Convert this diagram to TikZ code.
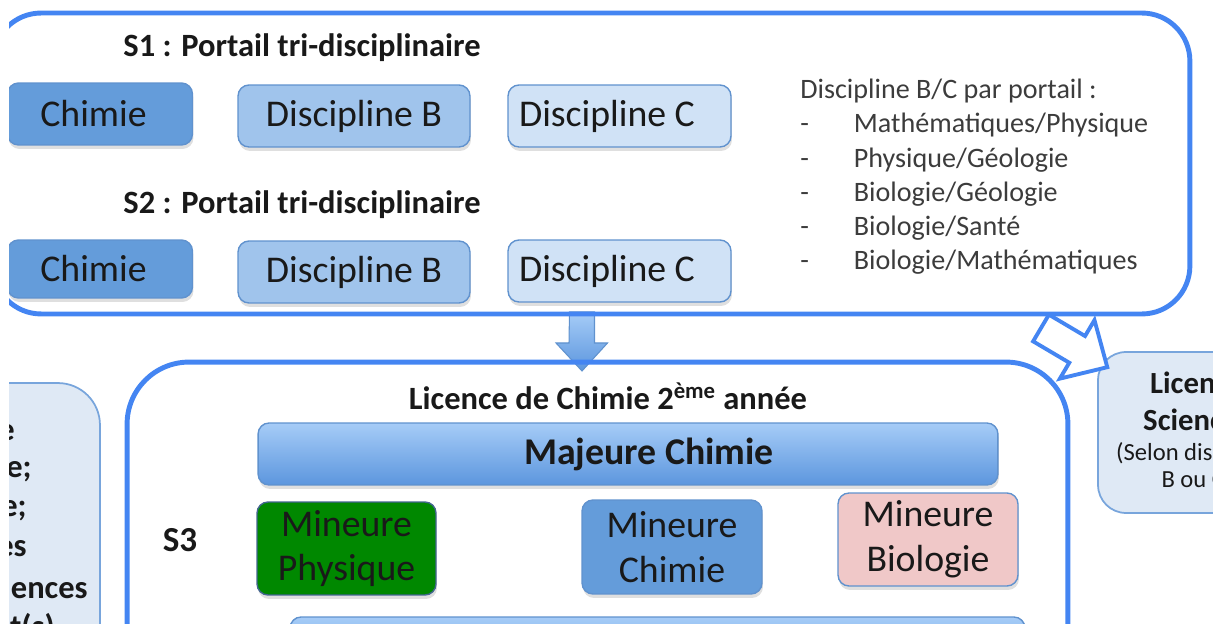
\documentclass[tikz,border=0pt]{standalone}
\usepackage{fontspec}
\setmainfont{Carlito}
\usepackage{tikz}
\usetikzlibrary{shadows}
\pgfdeclarelayer{background}
\pgfsetlayers{background,main}
\definecolor{frameblue}{RGB}{68,133,242}
\definecolor{chimie}{RGB}{100,156,218}
\definecolor{discb}{RGB}{160,196,236}
\definecolor{discc}{RGB}{208,226,246}
\definecolor{boxline}{RGB}{96,146,206}
\definecolor{physique}{RGB}{0,136,0}
\definecolor{biologie}{RGB}{240,200,200}
\definecolor{sidebox}{RGB}{223,233,245}
\definecolor{sideline}{RGB}{120,165,220}
\definecolor{listgray}{RGB}{60,60,60}
\definecolor{majtop}{RGB}{166,204,247}
\definecolor{majbot}{RGB}{92,150,222}

\begin{document}
\begin{tikzpicture}[
		x=0.02cm, y=-0.02cm,
		every node/.style={inner sep=0pt, text=black!90},
		frame/.style={draw=frameblue, line width=2.8pt},
		side/.style={draw=sideline, fill=sidebox, line width=1pt},
		unit/.style={draw=boxline, line width=0.8pt, rounded corners=0.22cm, align=center,
			font=\fontsize{21.5}{25.5}\selectfont,
			drop shadow={shadow xshift=0.02cm, shadow yshift=-0.08cm, opacity=0.25}},
		title/.style={font=\bfseries\fontsize{18.5}{22}\selectfont},
		frag/.style={anchor=base east, font=\bfseries\fontsize{18.5}{22}\selectfont}
	]
		\useasboundingbox (0,0) rectangle (1213,624);
		\clip (9,0) rectangle (1213,624);

		% S1 / S2
		\node[frame, rounded corners=0.96cm, minimum width=23.94cm, minimum height=6.02cm] (portail) at (591.5,163.5) {};
		\node[title] (s1) at (302,48) {S1 : Portail tri-disciplinaire};
		\node[unit, fill=chimie, minimum width=3.7cm, minimum height=1.24cm] (chimA) at (100,114) {Chimie\hspace*{0.26cm}};
		\node[unit, fill=discb, minimum width=4.64cm, minimum height=1.24cm] (discBA) at (354,116) {Discipline B};
		\node[unit, fill=discc, minimum width=4.46cm, minimum height=1.24cm] (discCA) at (619.5,116) {Discipline C\hspace*{0.5cm}};
		\node[title] (s2) at (302,205) {S2 : Portail tri-disciplinaire};
		\node[unit, fill=chimie, minimum width=3.7cm, minimum height=1.16cm] (chimB) at (100,269) {Chimie\hspace*{0.26cm}};
		\node[unit, fill=discb, minimum width=4.64cm, minimum height=1.24cm] (discBB) at (354,272) {Discipline B};
		\node[unit, fill=discc, minimum width=4.46cm, minimum height=1.24cm] (discCB) at (619.5,271) {Discipline C\hspace*{0.5cm}};
		\node[anchor=north west, align=left, text=listgray, font=\fontsize{16}{19.4}\selectfont] (liste) at (800,79) {
			Discipline B/C par portail :\\
			\makebox[30.5pt][l]{-}Mathématiques/Physique\\
			\makebox[30.5pt][l]{-}Physique/Géologie\\
			\makebox[30.5pt][l]{-}Biologie/Géologie\\
			\makebox[30.5pt][l]{-}Biologie/Santé\\
			\makebox[30.5pt][l]{-}Biologie/Mathématiques
		};

		% S3
		\node[frame, rounded corners=1.24cm, minimum width=18.82cm, minimum height=12.76cm] (licence) at (597.5,681) {};
		\node[title] (lictitre) at (608,396) {Licence de Chimie 2\textsuperscript{ème} année};
		\node[unit, top color=majtop, bottom color=majbot, minimum width=14.8cm, minimum height=1.24cm,
			font=\bfseries\fontsize{21.5}{25.5}\selectfont] (majeure) at (628,454) {\hspace*{0.84cm}Majeure Chimie};
		\node[font=\bfseries\fontsize{20}{24}\selectfont] (s3) at (180,540) {S3};
		\node[unit, fill=physique, draw=boxline!70!black, minimum width=3.58cm, minimum height=1.86cm] (minphys) at (346.5,548.5) {Mineure\\Physique};
		\node[unit, fill=chimie, minimum width=3.6cm, minimum height=1.88cm] (minchim) at (672,547) {Mineure\\Chimie};
		\node[unit, fill=biologie, minimum width=3.6cm, minimum height=1.86cm] (minbio) at (928,539.5) {Mineure\\Biologie};
		\node[unit, top color=majtop, bottom color=majbot, minimum width=14.7cm, minimum height=1.24cm] (bas) at (657.5,648) {};

		% autres licences
		\node[side, rounded corners=0.84cm, minimum width=6cm, minimum height=10.34cm] (gauche) at (-50,641.5) {};
		\node[frag] (g1) at (15,440) {e};
		\node[frag] (g2) at (32,478) {e;};
		\node[frag] (g3) at (27,516) {e;};
		\node[frag] (g4) at (27,556) {es};
		\node[frag] (g5) at (88,598) {ences};
		\node[frag] (g6) at (55,637) {nt(s)};
		\node[side, rounded corners=0.56cm, minimum width=6.04cm, minimum height=3.22cm] (droite) at (1249,432.5) {};
		\node[align=center, font=\bfseries\fontsize{17.5}{21}\selectfont] (lic) at (1197,401) {Licence\\Sciences};
		\node[align=center, font=\fontsize{14}{15.3}\selectfont] (licsub) at (1197,467) {(Selon discipline\\B ou C)};

		% fleches
		\coordinate (dtop) at (582,312);
		\coordinate (dtip) at (582,371);
		\begin{pgfonlayer}{background}
			\draw[draw=boxline, top color=majtop, bottom color=majbot, line width=0.6pt]
				(dtop) ++(-12.5,0) -- ++(25,0) -- ++(0,31) -- ++(13,0) -- (dtip) -- ++(-26,-28) -- ++(13,0) -- cycle;
		\end{pgfonlayer}
		\coordinate (htail) at (1041,328);
		\draw[draw=frameblue, fill=white, line width=2.2pt, line join=miter, shift={(htail)}, rotate=-30.6]
			(0,-15.5) -- (42,-15.5) -- (42,-34) -- (77,0) -- (42,34) -- (42,15.5) -- (0,15.5) -- cycle;
	\end{tikzpicture}
\end{document}
